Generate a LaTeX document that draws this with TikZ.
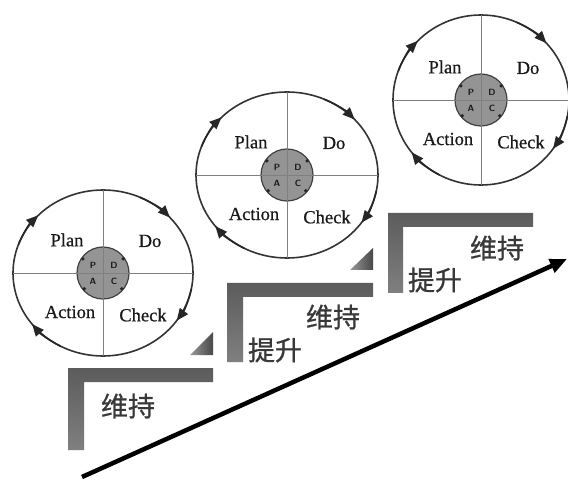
\documentclass[tikz,border=0pt]{standalone}
\usepackage{fontspec}
\setmainfont{Liberation Serif}
\newfontfamily\lblfont{Liberation Serif}[FakeBold=0.6]
\newfontfamily\cjk{Noto Sans CJK SC}[FakeBold=0.8]
\usetikzlibrary{arrows.meta,calc}

\tikzset{
  x=1pt, y=1pt,
  ring/.style={draw=black!80, line width=1.6pt},
  crossline/.style={draw=black!50, line width=0.9pt},
  hub/.style={circle, draw=black!75, fill=black!42, line width=1.2pt, minimum size=52pt, inner sep=0pt},
  lbl/.style={font=\lblfont\fontsize{18.5}{20}\selectfont, text=black!90, inner sep=0pt},
  tinyl/.style={font=\sffamily\bfseries\fontsize{9}{9}\selectfont, text=black!90, inner sep=0pt},
  cn/.style={font=\cjk\fontsize{27}{28}\selectfont, text=black!78, inner sep=0pt},
  cyc/.style={draw=black!85, line width=1.6pt, -{Triangle[length=12pt,width=10pt]}},
  lbar/.style={top color=black!64, bottom color=black!50},
  wedge/.style={left color=black!40, right color=black!72},
}

\newcommand\pdcacycle[5]{%
  \coordinate (#1) at (#2,#3);
  \draw[ring] (#1) ellipse [x radius=#4, y radius=#5];
  \node[hub] (#1h) at (#1) {};
  \draw[crossline] ($(#1)+(0,#5)$) -- ($(#1)+(0,-#5)$);
  \draw[crossline] ($(#1)+(-#4,0)$) -- ($(#1)+(#4,0)$);
  \foreach \a in {145,35,-40,-140} \fill[black!85] ($(#1)+(\a:24.5)$) circle (1.8);
  \node[tinyl] (#1p) at ($(#1)+(-10,8)$) {P};
  \node[tinyl] (#1d) at ($(#1)+(11,8)$) {D};
  \node[tinyl] (#1a) at ($(#1)+(-10,-8)$) {A};
  \node[tinyl] (#1c) at ($(#1)+(11,-8)$) {C};
  \node[lbl] (#1plan) at ($(#1)+(-36,33)$) {Plan};
  \node[lbl] (#1do) at ($(#1)+(47,32)$) {Do};
  \node[lbl] (#1act) at ($(#1)+(-33,-39)$) {Action};
  \node[lbl] (#1chk) at ($(#1)+(40,-42)$) {Check};
  \draw[cyc] ($(#1)+(160:#4 and #5)$) arc[start angle=160, end angle=136, x radius=#4, y radius=#5];
  \draw[cyc] ($(#1)+(66:#4 and #5)$) arc[start angle=66, end angle=42, x radius=#4, y radius=#5];
  \draw[cyc] ($(#1)+(-11:#4 and #5)$) arc[start angle=-11, end angle=-35, x radius=#4, y radius=#5];
  \draw[cyc] ($(#1)+(-118:#4 and #5)$) arc[start angle=-118, end angle=-142, x radius=#4, y radius=#5];
}

\begin{document}
\begin{tikzpicture}
\useasboundingbox (0,0) rectangle (568,480);
\fill[white] (0,0) rectangle (568,480);

% steps
\shade[lbar] (68,30) -- (68,112) -- (213,112) -- (213,98) -- (84,98) -- (84,30) -- cycle;
\shade[lbar] (227,118) -- (227,197) -- (373,197) -- (373,183) -- (243,183) -- (243,118) -- cycle;
\shade[lbar] (388,187) -- (388,267) -- (533,267) -- (533,253) -- (403,253) -- (403,187) -- cycle;
\shade[wedge] (190,125) -- (213,125) -- (213,148) -- cycle;
\shade[wedge] (350,210) -- (373,210) -- (373,232) -- cycle;

% texts
\node[cn] (w1) at (128,74) {维持};
\node[cn] (t2) at (275,130) {提升};
\node[cn] (w2) at (333,163) {维持};
\node[cn] (t3) at (435,200) {提升};
\node[cn] (w3) at (497,232) {维持};

% cycles
\pdcacycle{c1}{103}{207}{90}{83}
\pdcacycle{c2}{287}{305}{91}{83}
\pdcacycle{c3}{481}{380}{88}{85}

% main arrow
\coordinate (s) at (82,3);
\coordinate (e) at (567,221);
\draw[line width=4.5pt, -{Triangle[length=17pt,width=14pt]}] (s) -- (e);
\end{tikzpicture}
\end{document}
